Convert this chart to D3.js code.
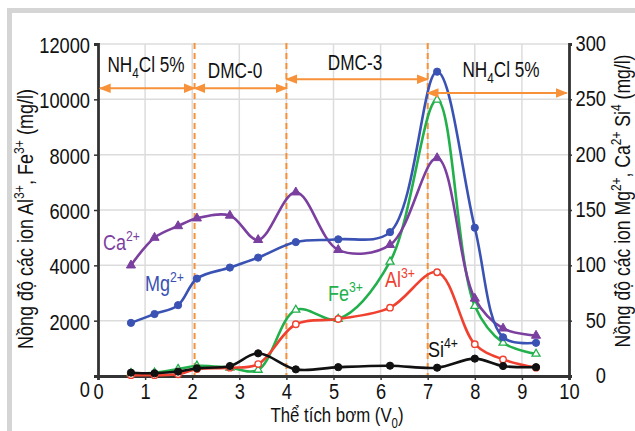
<!DOCTYPE html>
<html><head><meta charset="utf-8">
<script src="https://cdn.jsdelivr.net/npm/d3@7"></script>
<style>
html,body{margin:0;padding:0;background:#fff;}
svg text{font-family:"Liberation Sans",Arial,sans-serif;}
</style></head>
<body><svg id="c" width="635" height="431"></svg>
<script>
// ---- data ----
const volumes = [0.7, 1.2, 1.7, 2.1, 2.8, 3.4, 4.2, 5.1, 6.2, 7.2, 8.0, 8.6, 9.3];
// left axis (mg/l)
const al3 = [30, 30, 60, 250, 300, 430, 1870, 2060, 2470, 3750, 1150, 600, 300];
const fe3 = [100, 120, 250, 370, 300, 220, 2390, 2060, 4130, 9980, 2530, 1200, 800];
// right axis (mg/l)
const mg2 = [48, 56, 64, 88, 98, 107, 121, 123.5, 130, 275, 134, 35, 30];
const ca2 = [100, 125, 135.5, 142.5, 145, 123, 166, 114, 118.5, 197, 70, 43, 36.5];
const si4 = [3, 2.5, 4, 7, 9, 20.5, 6, 8, 9.3, 7.5, 15.7, 9, 8];
const xTicks = [0,1,2,3,4,5,6,7,8,9,10];
const leftTicks = [0,2000,4000,6000,8000,10000,12000];
const rightTicks = [0,50,100,150,200,250,300];
const phaseBounds = [2.05, 4.0, 7.0];
const phaseLabels = ["NH4Cl 5%", "DMC-0", "DMC-3", "NH4Cl 5%"];
const phaseStart = [0.04, 2.05, 4.0, 7.0];
const phaseEnd = [2.05, 4.0, 7.0, 9.95];

// ---- layout ----
const svg = d3.select("#c");
const x = d3.scaleLinear().domain([0,10]).range([98,569]);
const yL = d3.scaleLinear().domain([0,12000]).range([376,44]);
const yR = d3.scaleLinear().domain([0,300]).range([376,44]);
const orange = "#f7923a";
const SQ = 0.8;   // condensed factor for labels
const SQT = 0.83; // condensed factor for tick labels

// frame
svg.append("rect").attr("x",9.5).attr("y",10.5).attr("width",640).attr("height",440)
  .attr("fill","none").attr("stroke","#d5d5d5").attr("stroke-width",5);

// grid
const g = svg.append("g");
g.selectAll(".vg").data(xTicks.filter(d=>d>0&&d<10)).join("line")
  .attr("x1",d=>x(d)).attr("x2",d=>x(d)).attr("y1",yL(12000)).attr("y2",yL(0))
  .attr("stroke","#dcdcdc").attr("stroke-width",1.5);
g.selectAll(".hg").data(leftTicks.filter(d=>d>0)).join("line")
  .attr("x1",x(0)).attr("x2",x(10)).attr("y1",d=>yL(d)).attr("y2",d=>yL(d))
  .attr("stroke","#dcdcdc").attr("stroke-width",1.5);

// phase dashed lines
svg.selectAll(".pb").data(phaseBounds).join("line")
  .attr("x1",d=>x(d)).attr("x2",d=>x(d)).attr("y1",yL(12000)-1).attr("y2",yL(0))
  .attr("stroke",orange).attr("stroke-width",2).attr("stroke-dasharray","6,4");

// axes
const axL = svg.append("g").attr("transform",`translate(${x(0)},0)`)
  .call(d3.axisLeft(yL).tickValues(leftTicks).tickSize(4).tickPadding(4).tickFormat(d3.format("d")));
const axR = svg.append("g").attr("transform",`translate(${x(10)},0)`)
  .call(d3.axisRight(yR).tickValues(rightTicks).tickSize(3).tickPadding(34).tickFormat(d3.format("d")));
const axB = svg.append("g").attr("transform",`translate(0,${yL(0)})`)
  .call(d3.axisBottom(x).tickValues(xTicks).tickSize(4).tickPadding(4).tickFormat(d3.format("d")));
[axL,axR,axB].forEach(a=>{
  a.select(".domain").attr("stroke","#333").attr("stroke-width",2.8);
  a.selectAll(".tick line").attr("stroke","#333").attr("stroke-width",1.5);
  a.selectAll("text").attr("font-size",22).attr("fill","#111").attr("font-family",null);
});
axR.selectAll("text").attr("text-anchor","end");
axL.selectAll("text").attr("dy","0.38em");
axL.selectAll(".tick").filter(d=>d===0).select("text").attr("dy","0.92em").attr("x",-8);
axR.selectAll("text").attr("dy","0.3em");
axB.selectAll("text").attr("dy","0.68em");
// condense tick labels by horizontal scaling
[axL,axR,axB].forEach(a=>{
  a.selectAll(".tick text").each(function(){
    const t = d3.select(this);
    const xx = +(t.attr("x")||0);
    t.attr("x", xx/SQT).attr("transform",`scale(${SQT},1)`);
  });
});

// series
const curve = d3.curveCatmullRom.alpha(0.5);
const series = [
  {name:"Fe", vals:fe3, y:yL, color:"#21b04b", marker:"tri", open:true},
  {name:"Al", vals:al3, y:yL, color:"#f0402f", marker:"circ", open:true},
  {name:"Ca", vals:ca2, y:yR, color:"#7b3f9f", marker:"tri", open:false},
  {name:"Mg", vals:mg2, y:yR, color:"#3a52b3", marker:"circ", open:false},
  {name:"Si", vals:si4, y:yR, color:"#111111", marker:"circ", open:false}
];
series.forEach(s=>{
  const pts = volumes.map((v,i)=>[x(v), s.y(s.vals[i])]);
  svg.append("path").attr("d", d3.line().curve(curve)(pts))
    .attr("fill","none").attr("stroke",s.color).attr("stroke-width",2.6);
  const mk = svg.append("g");
  if (s.marker==="circ") {
    mk.selectAll("circle").data(pts).join("circle")
      .attr("cx",d=>d[0]).attr("cy",d=>d[1]).attr("r", s.open?3.2:3.6)
      .attr("fill", s.open?"#fff":s.color).attr("stroke",s.color).attr("stroke-width",s.open?1.4:1);
  } else {
    const sym = d3.symbol().type(d3.symbolTriangle).size(s.open?28:36);
    mk.selectAll("path").data(pts).join("path")
      .attr("transform",d=>`translate(${d[0]},${d[1]})`).attr("d",sym())
      .attr("fill", s.open?"#fff":s.color).attr("stroke",s.color).attr("stroke-width",s.open?1.3:1);
  }
});

// text helper: condensed rich text placed with a transform
function label(px, py, parts, fs, opts={}){
  const sx = opts.sx || SQ;
  const gg = svg.append("g")
    .attr("transform",`translate(${px},${py}) rotate(${opts.rot||0}) scale(${sx},1)`);
  const t = gg.append("text").attr("font-size",fs).attr("fill",opts.color||"#111")
    .attr("text-anchor",opts.anchor||"start");
  parts.forEach(p=>{
    const s = t.append("tspan").text(p[0]);
    if (p[1]==="sup") s.attr("font-size",fs*0.68).attr("baseline-shift","55%");
    else if (p[1]==="sub") s.attr("font-size",fs*0.68).attr("baseline-shift","-35%");
  });
  return t;
}

// arrows
const defs = svg.append("defs");
defs.append("marker").attr("id","ah").attr("viewBox","0 0 10 10").attr("refX",9).attr("refY",5)
  .attr("markerWidth",6).attr("markerHeight",6).attr("orient","auto-start-reverse")
  .append("path").attr("d","M0,1 L10,5 L0,9 Z").attr("fill",orange);
const arrowY = [10400, 10400, 10730, 10230];
phaseStart.forEach((s,i)=>{
  svg.append("line").attr("x1",x(s)).attr("x2",x(phaseEnd[i]))
    .attr("y1",yL(arrowY[i])).attr("y2",yL(arrowY[i]))
    .attr("stroke",orange).attr("stroke-width",2)
    .attr("marker-start","url(#ah)").attr("marker-end","url(#ah)");
});
// phase labels
const phaseLabelPos = [[146,72],[235,78],[355,70],[501,77]];
phaseLabels.forEach((lab,i)=>{
  const parts = lab.startsWith("NH4") ? [["NH"],["4","sub"],["Cl 5%"]] : [[lab]];
  label(phaseLabelPos[i][0], phaseLabelPos[i][1], parts, 21.5, {anchor:"middle"});
});

// series labels
const seriesLabels = [
  {parts:[["Ca"],["2+","sup"]], x:103, y:250, color:"#7b3f9f"},
  {parts:[["Mg"],["2+","sup"]], x:145, y:291, color:"#3a52b3"},
  {parts:[["Fe"],["3+","sup"]], x:328, y:301, color:"#21b04b"},
  {parts:[["Al"],["3+","sup"]], x:385, y:287, color:"#f0402f"},
  {parts:[["Si"],["4+","sup"]], x:428, y:357, color:"#111"}
];
seriesLabels.forEach(l=>label(l.x, l.y, l.parts, 22.5, {color:l.color}));

// axis titles
label(337, 422, [["Thể tích bơm (V"],["0","sub"],[")"]], 21, {anchor:"middle"});
label(33, 219, [["Nồng độ các ion Al"],["3+","sup"],[", Fe"],["3+","sup"],[" (mg/l)"]], 22.5,
  {anchor:"middle", rot:-90});
label(630, 201, [["Nồng độ các ion Mg"],["2+","sup"],[", Ca"],["2+","sup"],[" Si"],["4","sup"],[" (mg/l)"]], 22,
  {anchor:"middle", rot:-90});
</script></body></html>
